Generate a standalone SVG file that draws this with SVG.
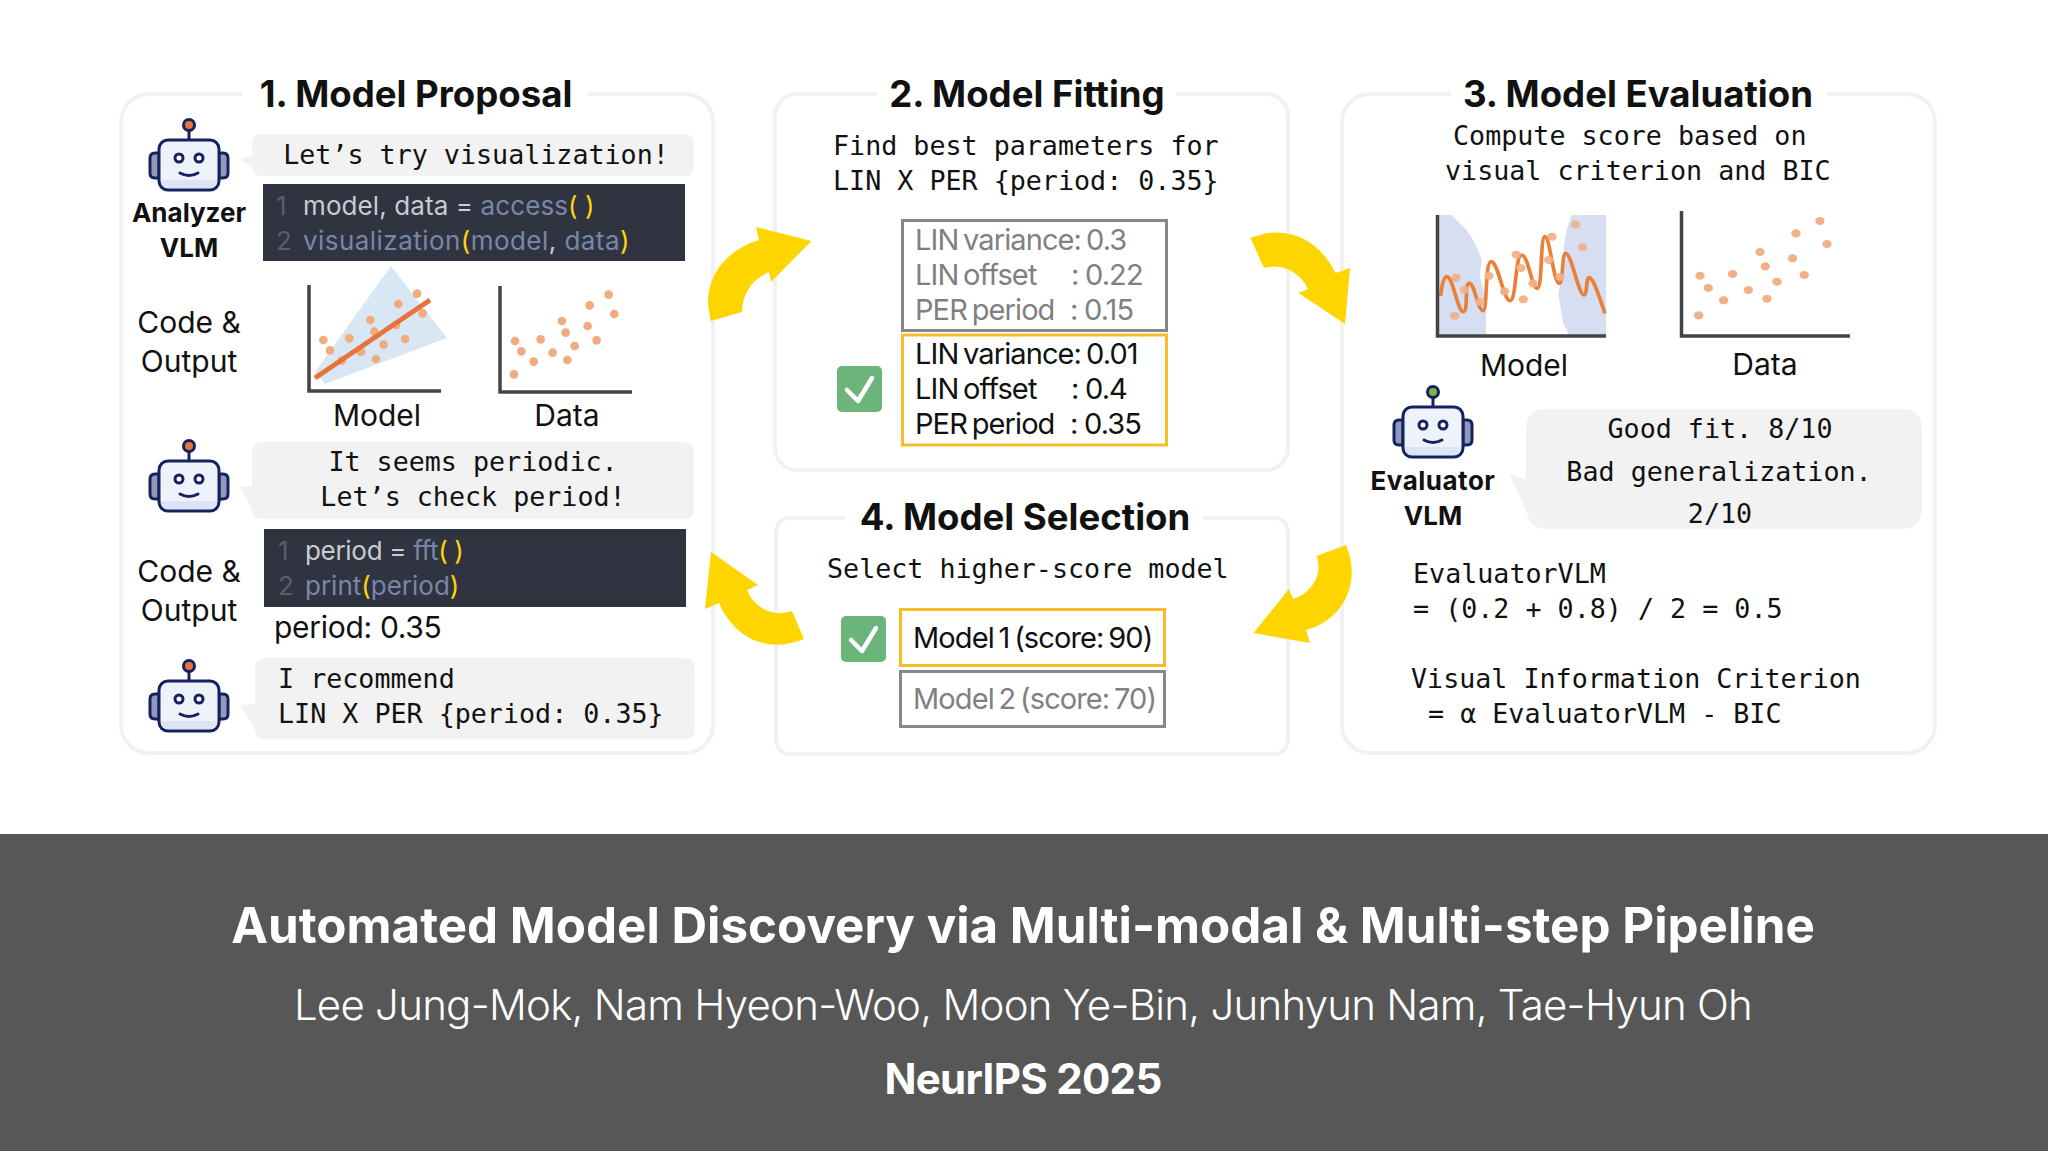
<svg xmlns="http://www.w3.org/2000/svg" xmlns:xlink="http://www.w3.org/1999/xlink" width="2048" height="1151" viewBox="0 0 2048 1151">
<style>
.panel{fill:#fff;stroke:#f1f1f1;stroke-width:4}
.gap{fill:#fff}
.title{font:700 36.6px Inter,"Noto Sans",sans-serif;fill:#111;text-anchor:middle}
.mono{font:26.7px "DejaVu Sans Mono",monospace;fill:#111}
.mid{text-anchor:middle}
.sans{font:400 30px Inter,"Noto Sans",sans-serif;fill:#111}
.box{font:400 29px Inter,"Noto Sans",sans-serif;fill:#111;letter-spacing:-.9px;word-spacing:-2.5px}
.bold{font:700 26px Inter,"Noto Sans",sans-serif;fill:#111;text-anchor:middle}
.code{font:400 26px Inter,"Noto Sans",sans-serif;fill:#c9ccd2}
.num{fill:#5a5f6b}.fn{fill:#7887a8}.par{fill:#ffd60a}
.bubble{fill:#f2f2f2}
.codebox{fill:#2f3440}
.grey{fill:none;stroke:#888;stroke-width:3}
.gold{fill:none;stroke:#f6bd2b;stroke-width:3}
.gt{fill:#808080}
.axis{fill:none;stroke:#444;stroke-width:3.5}
.dot{fill:#f0ab7e}
.arrow{fill:#ffd500}
.check{fill:#6bb57b}
.tick{fill:none;stroke:#fff;stroke-width:4.5;stroke-linecap:round;stroke-linejoin:round}
.navy{stroke:#16215f;stroke-width:3}
.foot{fill:#fff;text-anchor:middle;font-family:Inter,"Noto Sans",sans-serif}
</style>
<defs>
<g id="robot">
<path d="M-30 13H-34Q-39 13-39 18V33Q-39 38-34 38H-30Z" fill="#8f9ab8" class="navy"/>
<path d="M30 13H34Q39 13 39 18V33Q39 38 34 38H30Z" fill="#8f9ab8" class="navy"/>
<path d="M0 -10V0" class="navy" fill="none"/>
<rect x="-30" y="0" width="60" height="50" rx="9" fill="#eef2fb" class="navy"/>
<path d="M-28 40H28V41Q28 48 21 48H-21Q-28 48-28 41Z" fill="#dde4f6"/>
<circle cx="-10" cy="18" r="4" fill="#fff" class="navy" stroke-width="2.5"/>
<circle cx="10" cy="18" r="4" fill="#fff" class="navy" stroke-width="2.5"/>
<path d="M-9 33Q0 38 9 33" fill="none" class="navy" stroke-linecap="round"/>
</g>
</defs>
<rect width="2048" height="1151" fill="#fff"/>

<g id="panel-1">
<rect class="panel" x="121" y="94" width="592" height="659" rx="28"/>
<rect class="gap" x="242" y="84" width="346" height="24"/>
<text class="title" x="416" y="107">1. Model Proposal</text>
</g>
<g id="panel-2">
<rect class="panel" x="775" y="94" width="513" height="376" rx="22"/>
<rect class="gap" x="877" y="84" width="299" height="24"/>
<text class="title" x="1027" y="107">2. Model Fitting</text>
</g>
<g id="panel-3">
<rect class="panel" x="1342" y="94" width="593" height="659" rx="28"/>
<rect class="gap" x="1451" y="84" width="376" height="24"/>
<text class="title" x="1638" y="107">3. Model Evaluation</text>
</g>
<g id="panel-4">
<rect class="panel" x="776" y="518" width="512" height="236" rx="14"/>
<rect class="gap" x="845" y="508" width="358" height="24"/>
<text class="title" x="1025" y="530">4. Model Selection</text>
</g>

<g id="analyzer-1">
<use href="#robot" x="189" y="140"/>
<circle cx="189" cy="125" r="5.5" fill="#e8743b" class="navy" stroke-width="2.5"/>
<text class="bold" x="189" y="222">Analyzer</text>
<text class="bold" x="189" y="257">VLM</text>
</g>
<g id="bubble-1">
<path class="bubble" d="M262 134H684Q694 134 694 144V166Q694 176 684 176H262Q252 176 252 168L240 159L252 156V144Q252 134 262 134Z"/>
<text class="mono mid" x="476" y="164">Let’s try visualization!</text>
</g>
<g id="code-1">
<rect class="codebox" x="263" y="184" width="422" height="77"/>
<text class="code" x="276" y="215"><tspan class="num">1</tspan></text>
<text class="code" x="303" y="215" letter-spacing=".1">model, data = <tspan class="fn">access</tspan><tspan class="par">( )</tspan></text>
<text class="code" x="276" y="250"><tspan class="num">2</tspan></text>
<text class="code" x="303" y="250" letter-spacing=".45"><tspan class="fn">visualization</tspan><tspan class="par">(</tspan><tspan class="fn">model</tspan>, <tspan class="fn">data</tspan><tspan class="par">)</tspan></text>
</g>
<g id="label-code-1">
<text class="sans mid" x="189" y="333">Code &amp;</text>
<text class="sans mid" x="189" y="372">Output</text>
</g>
<g id="plot-model-1">
<polygon points="391,266 447,338 325,384 315,372" fill="#d9e7f5"/>
<g transform="translate(290 270) scale(.3333)">
<g class="dot">
<circle cx="100" cy="210" r="13"/><circle cx="120" cy="241" r="13"/><circle cx="155" cy="272" r="13"/><circle cx="178" cy="205" r="13"/><circle cx="213" cy="246" r="13"/><circle cx="241" cy="150" r="13"/><circle cx="253" cy="185" r="13"/><circle cx="258" cy="267" r="13"/><circle cx="281" cy="224" r="13"/><circle cx="318" cy="165" r="13"/><circle cx="325" cy="102" r="13"/><circle cx="345" cy="207" r="13"/><circle cx="381" cy="71" r="13"/><circle cx="398" cy="130" r="13"/>
</g>
</g>
<path d="M315 378L430 300" stroke="#e8743b" stroke-width="5" fill="none"/>
<path class="axis" d="M309 285V391H441"/>
<text class="sans mid" x="377" y="426">Model</text>
</g>
<g id="plot-data-1">
<g transform="translate(290 270) scale(.3333)">
<g class="dot">
<circle cx="672" cy="313" r="13"/><circle cx="675" cy="213" r="13"/><circle cx="694" cy="244" r="13"/><circle cx="731" cy="275" r="13"/><circle cx="752" cy="208" r="13"/><circle cx="788" cy="248" r="13"/><circle cx="816" cy="153" r="13"/><circle cx="827" cy="188" r="13"/><circle cx="832" cy="270" r="13"/><circle cx="854" cy="228" r="13"/><circle cx="893" cy="168" r="13"/><circle cx="899" cy="106" r="13"/><circle cx="920" cy="211" r="13"/><circle cx="956" cy="74" r="13"/><circle cx="973" cy="132" r="13"/>
</g>
</g>
<path class="axis" d="M500 286V392H632"/>
<text class="sans mid" x="567" y="426">Data</text>
</g>

<g id="analyzer-2">
<use href="#robot" x="189" y="461"/>
<circle cx="189" cy="446" r="5.5" fill="#e8743b" class="navy" stroke-width="2.5"/>
</g>
<g id="bubble-2">
<path class="bubble" d="M262 442H684Q694 442 694 452V509Q694 519 684 519H262Q252 519 252 509L240 487L252 486V452Q252 442 262 442Z"/>
<text class="mono mid" x="473" y="471">It seems periodic.</text>
<text class="mono mid" x="473" y="506">Let’s check period!</text>
</g>
<g id="code-2">
<rect class="codebox" x="264" y="529" width="422" height="78"/>
<text class="code" x="278" y="560"><tspan class="num">1</tspan></text>
<text class="code" x="305" y="560" letter-spacing="-.3">period = <tspan class="fn">fft</tspan><tspan class="par">( )</tspan></text>
<text class="code" x="278" y="595"><tspan class="num">2</tspan></text>
<text class="code" x="305" y="595"><tspan class="fn">print</tspan><tspan class="par">(</tspan><tspan class="fn">period</tspan><tspan class="par">)</tspan></text>
</g>
<g id="label-code-2">
<text class="sans mid" x="189" y="582">Code &amp;</text>
<text class="sans mid" x="189" y="621">Output</text>
<text class="sans" x="274" y="638" letter-spacing="-.3">period: 0.35</text>
</g>
<g id="analyzer-3">
<use href="#robot" x="189" y="681"/>
<circle cx="189" cy="666" r="5.5" fill="#e8743b" class="navy" stroke-width="2.5"/>
</g>
<g id="bubble-3">
<path class="bubble" d="M265 658H685Q695 658 695 668V729Q695 739 685 739H265Q255 739 255 729L240 705L255 704V668Q255 658 265 658Z"/>
<text class="mono" x="278" y="688">I recommend</text>
<text class="mono" x="278" y="723">LIN X PER {period: 0.35}</text>
</g>

<g id="fit-text">
<text class="mono" x="833" y="155">Find best parameters for</text>
<text class="mono" x="833" y="190">LIN X PER {period: 0.35}</text>
</g>
<g id="params-rejected">
<rect class="grey" x="902.5" y="220.5" width="264" height="110"/>
<text class="box gt" x="915" y="250">LIN variance:<tspan x="1086">0.3</tspan></text>
<text class="box gt" x="915" y="285">LIN offset<tspan x="1071">:</tspan><tspan x="1085">0.22</tspan></text>
<text class="box gt" x="915" y="320">PER period<tspan x="1070">:</tspan><tspan x="1084">0.15</tspan></text>
</g>
<g id="params-selected">
<rect class="gold" x="902.5" y="335" width="264" height="110"/>
<text class="box" x="915" y="364">LIN variance:<tspan x="1086">0.01</tspan></text>
<text class="box" x="915" y="399">LIN offset<tspan x="1071">:</tspan><tspan x="1085">0.4</tspan></text>
<text class="box" x="915" y="434">PER period<tspan x="1070">:</tspan><tspan x="1084">0.35</tspan></text>
</g>
<g id="check-fit">
<rect class="check" x="837" y="366" width="45" height="46" rx="5"/>
<path class="tick" d="M847 390L858 401L872 378"/>
</g>

<g id="select-text">
<text class="mono" x="827" y="578">Select higher-score model</text>
</g>
<g id="model-1-box">
<rect class="gold" x="900.5" y="609.5" width="264" height="56"/>
<text class="box" x="913" y="648">Model 1 (score: 90)</text>
</g>
<g id="model-2-box">
<rect class="grey" x="900.5" y="671.5" width="264" height="55"/>
<text class="box gt" x="913" y="709">Model 2 (score: 70)</text>
</g>
<g id="check-select">
<rect class="check" x="841" y="616" width="45" height="46" rx="5"/>
<path class="tick" d="M851 640L862 651L876 628"/>
</g>

<g id="eval-text">
<text class="mono" x="1453" y="145">Compute score based on</text>
<text class="mono" x="1445" y="180">visual criterion and BIC</text>
</g>
<g id="plot-model-3">
<g transform="translate(1420 200) scale(.3333)">
<path fill="#d6dff2" d="M55 45H95L140 90L165 130L185 178L180 230L198 300V405H55Z"/>
<path fill="#d6dff2" d="M455 45H558V405H447L430 370L415 285L425 225L433 130L440 90Z"/>
<path fill="none" stroke="#e8803a" stroke-width="11" d="M62 288C66 250 72 230 80 230C100 230 112 335 130 335C146 335 132 250 148 250C165 250 172 332 190 332C202 332 195 185 213 185C235 185 250 302 270 302C290 302 285 165 305 165C325 165 335 265 352 265C368 265 360 110 375 110C390 110 400 250 418 250C430 250 425 160 437 160C455 160 475 285 492 285C502 285 498 233 507 233C522 233 540 300 555 340"/>
<g fill="#f2b088" fill-opacity=".92">
<ellipse cx="104" cy="347" rx="14" ry="12"/><ellipse cx="108" cy="233" rx="14" ry="12"/><ellipse cx="133" cy="269" rx="14" ry="12"/><ellipse cx="180" cy="305" rx="14" ry="12"/><ellipse cx="207" cy="228" rx="14" ry="12"/><ellipse cx="254" cy="274" rx="14" ry="12"/><ellipse cx="289" cy="164" rx="14" ry="12"/><ellipse cx="303" cy="204" rx="14" ry="12"/><ellipse cx="310" cy="298" rx="14" ry="12"/><ellipse cx="339" cy="250" rx="14" ry="12"/><ellipse cx="386" cy="180" rx="14" ry="12"/><ellipse cx="396" cy="110" rx="14" ry="12"/><ellipse cx="420" cy="231" rx="14" ry="12"/><ellipse cx="467" cy="73" rx="14" ry="12"/><ellipse cx="488" cy="141" rx="14" ry="12"/>
</g>
</g>
<path class="axis" d="M1437.5 215V336H1606"/>
<text class="sans mid" x="1524" y="376">Model</text>
</g>
<g id="plot-data-3">
<g transform="translate(1420 200) scale(.3333)">
<g fill="#f2b088">
<ellipse cx="836" cy="346" rx="14" ry="12"/><ellipse cx="840" cy="227" rx="14" ry="12"/><ellipse cx="865" cy="264" rx="14" ry="12"/><ellipse cx="911" cy="301" rx="14" ry="12"/><ellipse cx="938" cy="222" rx="14" ry="12"/><ellipse cx="985" cy="270" rx="14" ry="12"/><ellipse cx="1020" cy="156" rx="14" ry="12"/><ellipse cx="1036" cy="199" rx="14" ry="12"/><ellipse cx="1041" cy="296" rx="14" ry="12"/><ellipse cx="1071" cy="245" rx="14" ry="12"/><ellipse cx="1118" cy="175" rx="14" ry="12"/><ellipse cx="1128" cy="100" rx="14" ry="12"/><ellipse cx="1153" cy="225" rx="14" ry="12"/><ellipse cx="1200" cy="63" rx="14" ry="12"/><ellipse cx="1221" cy="132" rx="14" ry="12"/>
</g>
</g>
<path class="axis" d="M1681.5 211V336H1850"/>
<text class="sans mid" x="1765" y="375">Data</text>
</g>
<g id="evaluator">
<use href="#robot" x="1433" y="407"/>
<circle cx="1433" cy="392" r="5.5" fill="#7cb342" class="navy" stroke-width="2.5"/>
<text class="bold" x="1433" y="490" letter-spacing=".5">Evaluator</text>
<text class="bold" x="1433" y="525">VLM</text>
</g>
<g id="bubble-eval">
<path class="bubble" d="M1546 409H1902Q1922 409 1922 429V509Q1922 529 1902 529H1546Q1530 529 1526 510L1509 473L1526 480V429Q1526 409 1546 409Z"/>
<text class="mono mid" x="1720" y="438">Good fit. 8/10</text>
<text class="mono mid" x="1719" y="481">Bad generalization.</text>
<text class="mono mid" x="1720" y="523">2/10</text>
</g>
<g id="formula">
<text class="mono" x="1413" y="583">EvaluatorVLM</text>
<text class="mono" x="1413" y="618">= (0.2 + 0.8) / 2 = 0.5</text>
<text class="mono" x="1411" y="688">Visual Information Criterion</text>
<text class="mono" x="1428" y="723">= α EvaluatorVLM - BIC</text>
</g>

<g id="connectors">
<path class="arrow" d="M710.5 321L742 312C742 294 752 279 769 272L771 282L811.5 241L756 227L759 240C728 250 708 272 708 303Z"/>
<path class="arrow" d="M1250.5 238L1264 268C1282 263 1300 272 1308 289L1298.5 293L1345 324L1350 268L1335.5 273C1322 244 1290 222 1250.5 238Z"/>
<path class="arrow" d="M1346 545L1316.6 556C1323 575 1312 593 1293 599L1289 589L1253.5 633L1310 643L1306 630C1340 622 1363 585 1346 545Z"/>
<path class="arrow" d="M711 552L705 609L719 603C733 636 766 655 804 639L792 611C772 618 754 607 747 590L758 585Z"/>
</g>

<g id="footer">
<rect x="0" y="834" width="2048" height="317" fill="#575757"/>
<text class="foot" x="1023" y="943" font-size="49.3" font-weight="700">Automated Model Discovery via Multi-modal &amp; Multi-step Pipeline</text>
<text class="foot" x="1023" y="1020" font-size="42" font-weight="300" letter-spacing="-.75">Lee Jung-Mok, Nam Hyeon-Woo, Moon Ye-Bin, Junhyun Nam, Tae-Hyun Oh</text>
<text class="foot" x="1023" y="1094" font-size="42" font-weight="700" letter-spacing="-.7">NeurIPS 2025</text>
</g>
</svg>
